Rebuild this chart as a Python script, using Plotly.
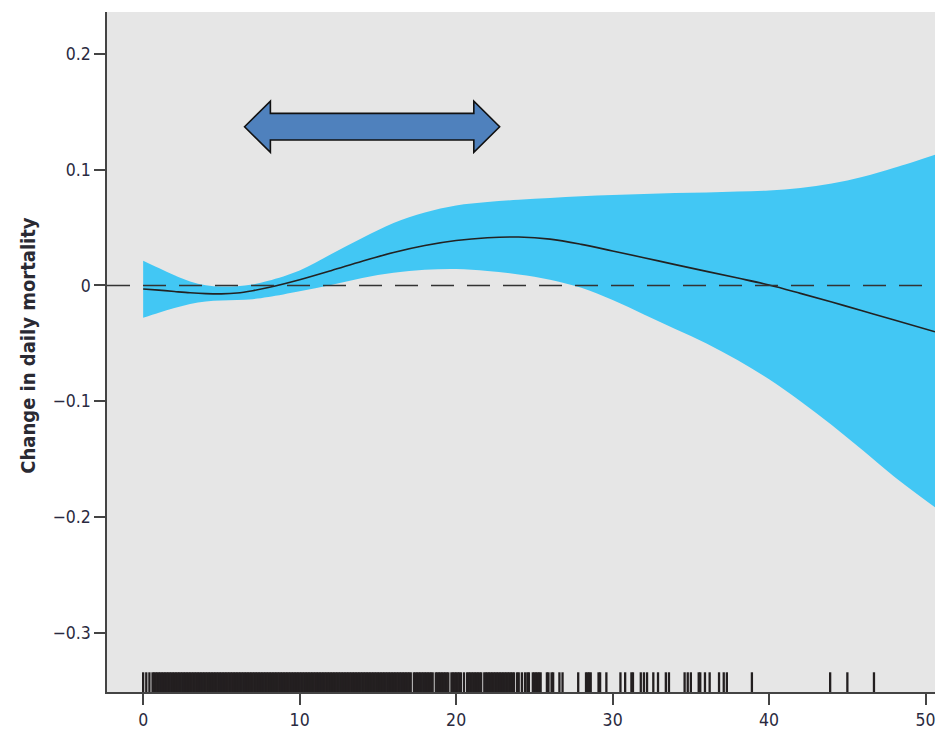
import plotly.graph_objects as go

# ---------------- data ----------------
x_grid = [0, 1, 2, 3, 4, 5, 6, 7, 8, 10, 12, 14, 16, 18, 20, 22, 24, 26, 28, 30,
          32, 34, 36, 38, 40, 42, 44, 46, 48, 50.6]
fit = [-0.003, -0.004, -0.0052, -0.0063, -0.007, -0.0072, -0.0065, -0.0045, -0.0018,
       0.005, 0.0128, 0.021, 0.0285, 0.0345, 0.0388, 0.0412, 0.0418, 0.0400, 0.0355, 0.0298,
       0.0240, 0.0180, 0.0122, 0.0064, 0.0004, -0.0068, -0.0143, -0.0220, -0.0297, -0.040]
upper = [0.0214, 0.0150, 0.0088, 0.0035, 0.0003, -0.0008, -0.0006, 0.0008, 0.004,
         0.013, 0.027, 0.041, 0.054, 0.063, 0.069, 0.072, 0.074, 0.0755, 0.077, 0.078,
         0.079, 0.0797, 0.0803, 0.0810, 0.0820, 0.0842, 0.0880, 0.0938, 0.1015, 0.1128]
lower = [-0.0278, -0.0235, -0.0195, -0.016, -0.0138, -0.013, -0.0125, -0.0118, -0.010,
         -0.005, 0.0005, 0.0065, 0.011, 0.0135, 0.0142, 0.0125, 0.0095, 0.005, -0.002,
         -0.0125, -0.025, -0.0375, -0.050, -0.0645, -0.081, -0.100, -0.1205, -0.1425,
         -0.165, -0.1914]

# observed exposure values (rug)
rug_values = [
    0.0, 0.2, 0.4, 0.6, 0.7, 0.8, 0.9,
    1.0, 1.1, 1.2, 1.3, 1.4, 1.5, 1.6, 1.7, 1.8, 1.9,
    2.0, 2.1, 2.2, 2.3, 2.4, 2.5, 2.6, 2.7, 2.8, 2.9,
    3.0, 3.1, 3.2, 3.3, 3.4, 3.5, 3.6, 3.7, 3.8, 3.9,
    4.0, 4.1, 4.2, 4.3, 4.4, 4.5, 4.6, 4.7, 4.8, 4.9,
    5.0, 5.1, 5.2, 5.3, 5.4, 5.5, 5.6, 5.7, 5.8, 5.9,
    6.0, 6.1, 6.2, 6.3, 6.4, 6.5, 6.6, 6.7, 6.8, 6.9,
    7.0, 7.1, 7.2, 7.3, 7.4, 7.5, 7.6, 7.7, 7.8, 7.9,
    8.0, 8.1, 8.2, 8.3, 8.4, 8.5, 8.6, 8.7, 8.8, 8.9,
    9.0, 9.1, 9.2, 9.3, 9.4, 9.5, 9.6, 9.7, 9.8, 9.9,
    10.0, 10.1, 10.2, 10.3, 10.4, 10.5, 10.6, 10.7, 10.8, 10.9,
    11.0, 11.1, 11.2, 11.3, 11.4, 11.5, 11.6, 11.7, 11.8, 11.9,
    12.0, 12.1, 12.2, 12.3, 12.4, 12.5, 12.6, 12.7, 12.8, 12.9,
    13.0, 13.1, 13.2, 13.3, 13.4, 13.5, 13.6, 13.7, 13.8, 13.9,
    14.0, 14.1, 14.2, 14.3, 14.4, 14.5, 14.6, 14.7, 14.8, 14.9,
    15.0, 15.1, 15.2, 15.3, 15.4, 15.5, 15.6, 15.7, 15.8, 15.9,
    16.0, 16.1, 16.2, 16.3, 16.4, 16.5, 16.6, 16.7, 16.8, 16.9,
    17.0, 17.1, 17.3, 17.4, 17.5, 17.6, 17.7, 17.8, 17.9,
    18.0, 18.1, 18.2, 18.3, 18.4, 18.5, 18.7, 18.8, 18.9,
    19.0, 19.1, 19.2, 19.3, 19.4, 19.5, 19.7, 19.8, 19.9,
    20.0, 20.1, 20.2, 20.3, 20.5, 20.7, 20.8, 20.9,
    21.0, 21.1, 21.2, 21.3, 21.4, 21.5, 21.6, 21.8, 21.9,
    22.0, 22.1, 22.2, 22.3, 22.4, 22.5, 22.6, 22.7, 22.8, 22.9,
    23.0, 23.1, 23.2, 23.3, 23.4, 23.5, 23.6, 23.7,
    23.9, 24.0, 24.2, 24.4, 24.55, 24.65,
    24.9, 25.0, 25.1, 25.2, 25.3, 25.4,
    25.8, 25.9, 26.1, 26.2, 26.6, 26.8, 27.8,
    28.3, 28.4, 28.5, 28.6, 29.1, 29.2, 29.6,
    30.5, 30.8, 31.2, 31.3, 31.8, 32.0, 32.2, 32.6, 32.9, 33.4, 33.6,
    34.6, 34.8, 35.0, 35.5, 35.6, 35.9, 36.2, 36.8, 37.1, 37.3,
    38.9, 43.9, 45.0, 46.7,
]

x_tick_vals = [0, 10, 20, 30, 40, 50]
x_tick_text = ["0", "10", "20", "30", "40", "50"]
y_tick_vals = [0.2, 0.1, 0, -0.1, -0.2, -0.3]
y_tick_text = ["0.2", "0.1", "0", "\u22120.1", "\u22120.2", "\u22120.3"]
y_title = "Change in daily mortality"

# annotation arrow (data units)
arrow_x_start, arrow_x_end, arrow_y = 6.48, 22.78, 0.137

# ---------------- styles ----------------
band_color = "#42C7F4"
panel_color = "#E6E6E6"
font_family = "DejaVu Sans, Liberation Sans Narrow, sans-serif"
tick_font = dict(family=font_family, size=17.5, color="#2a2a40")

fig = go.Figure()
fig.add_trace(go.Scatter(x=x_grid, y=lower, mode="lines", line=dict(width=0, shape="spline", color=band_color),
                         hoverinfo="skip", showlegend=False))
fig.add_trace(go.Scatter(x=x_grid, y=upper, mode="lines", line=dict(width=0, shape="spline", color=band_color),
                         fill="tonexty", fillcolor=band_color, hoverinfo="skip", showlegend=False))
fig.add_trace(go.Scatter(x=x_grid, y=fit, mode="lines", line=dict(width=1.6, shape="spline", color="#222222"),
                         showlegend=False))

# rug
rx, ry = [], []
for v in rug_values:
    rx += [v, v, None]
    ry += [0, 0.029, None]
fig.add_trace(go.Scatter(x=rx, y=ry, yaxis="y2", mode="lines", line=dict(width=2.3, color="#231f20"),
                         hoverinfo="skip", showlegend=False))

# dashed zero line
fig.add_shape(type="line", xref="paper", x0=0, x1=1, yref="y", y0=0, y1=0,
              line=dict(color="#333333", width=1.6, dash="23px,13px"), layer="above")

# double-headed block arrow
hl, hh, sh = 1.65, 0.022, 0.0115
xa, xb = arrow_x_start, arrow_x_end
path = (f"M {xa},{arrow_y} L {xa+hl},{arrow_y+hh} L {xa+hl},{arrow_y+sh} L {xb-hl},{arrow_y+sh} "
        f"L {xb-hl},{arrow_y+hh} L {xb},{arrow_y} L {xb-hl},{arrow_y-hh} L {xb-hl},{arrow_y-sh} "
        f"L {xa+hl},{arrow_y-sh} L {xa+hl},{arrow_y-hh} Z")
fig.add_shape(type="path", path=path, xref="x", yref="y", fillcolor="#4F81BD",
              line=dict(color="#111111", width=1.6), layer="above")

fig.add_annotation(text=f"<b>{y_title}</b>", xref="paper", yref="paper", x=0, y=0.5,
                   xanchor="center", yanchor="middle", xshift=-79, yshift=6, textangle=-90,
                   showarrow=False,
                   font=dict(family=font_family, size=20, color="#2a2a33"))

fig.update_layout(
    width=937, height=730,
    margin=dict(l=107, r=0, t=12, b=33),
    paper_bgcolor="white", plot_bgcolor=panel_color,
    showlegend=False,
    xaxis=dict(range=[-2.31, 50.6], tickvals=x_tick_vals, ticktext=x_tick_text,
               showgrid=False, zeroline=False, showline=True, linecolor="#444444", linewidth=1.5,
               ticks="outside", ticklen=11, tickwidth=1.5, tickcolor="#444444", tickfont=tick_font,
               ticklabeloverflow="allow"),
    yaxis=dict(range=[-0.3508, 0.236], tickvals=y_tick_vals, ticktext=y_tick_text,
               showgrid=False, zeroline=False, showline=True, linecolor="#444444", linewidth=1.5,
               ticks="outside", ticklen=11, tickwidth=1.5, tickcolor="#444444", tickfont=tick_font),
    yaxis2=dict(range=[0, 1], overlaying="y", visible=False, fixedrange=True),
)

post = """
document.body.style.margin = '0';
document.body.style.overflow = 'hidden';
function condense() {
  document.querySelectorAll('.xtick text, .ytick text, .annotation-text').forEach(function (e) {
    e.style.fontStretch = 'condensed';
  });
}
condense();
var gd = document.getElementById('{plot_id}');
if (gd && gd.on) { gd.on('plotly_afterplot', condense); }
setTimeout(condense, 0);
"""

fig.write_html("out.html", post_script=post, config={"displayModeBar": False})
